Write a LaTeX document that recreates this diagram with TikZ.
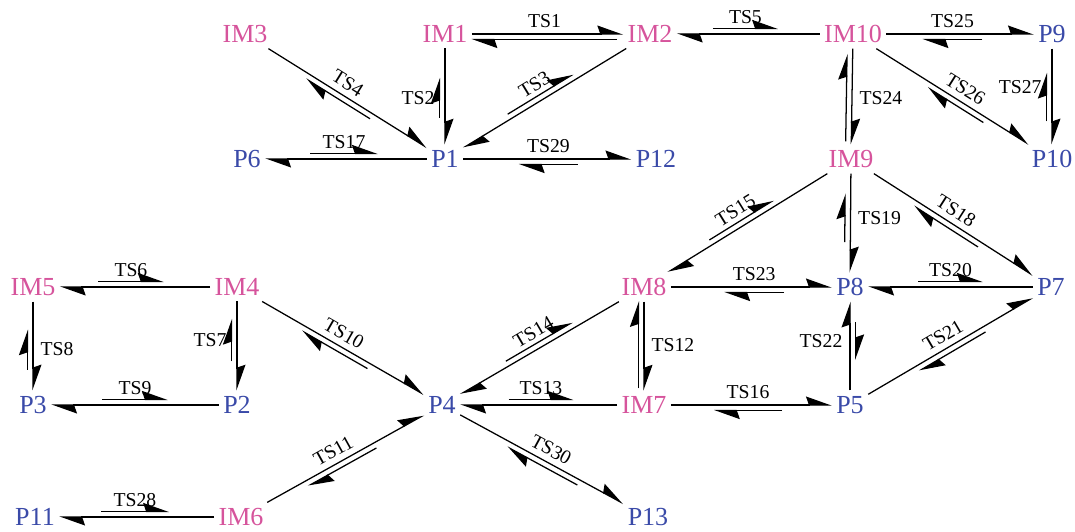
\documentclass[tikz,border=0pt]{standalone}
\usepackage{fontspec}
\setmainfont{Liberation Serif}
\usetikzlibrary{arrows.meta}
\usetikzlibrary{calc}
\definecolor{impink}{RGB}{214,84,156}
\definecolor{pblue}{RGB}{58,74,168}
\tikzstyle{ImNode}=[rectangle, inner xsep=3pt, inner ysep=4pt, text=impink, font=\fontsize{18.5}{20}\selectfont]
\tikzstyle{PNode}=[ImNode, text=pblue]
\tikzstyle{FwdEdge}=[-{Stealth[harpoon, length=17pt, width=12pt, inset=2pt]}, line width=0.9pt]
\tikzstyle{BackEdge}=[FwdEdge]
\tikzstyle{TsLabel}=[font=\fontsize{14}{16}\selectfont, inner sep=1pt]

\begin{document}
\begin{tikzpicture}[x=0.025cm, y=-0.025cm]
\useasboundingbox (0,0) rectangle (1075,531);
% intermediates
\node[ImNode](IM3) at (245,34) {IM3};
\node[ImNode](IM1) at (445,34) {IM1};
\node[ImNode](IM2) at (650,34) {IM2};
\node[ImNode](IM10) at (853,34) {IM10};
\node[ImNode](IM9) at (851,159) {IM9};
\node[ImNode](IM5) at (33,287) {IM5};
\node[ImNode](IM4) at (237,287) {IM4};
\node[ImNode](IM8) at (644,287) {IM8};
\node[ImNode](IM7) at (644,405) {IM7};
\node[ImNode](IM6) at (241,517) {IM6};
% products
\node[PNode](P9) at (1052,34) {P9};
\node[PNode](P6) at (247,159) {P6};
\node[PNode](P1) at (445,159) {P1};
\node[PNode](P12) at (656,159) {P12};
\node[PNode](P10) at (1052,159) {P10};
\node[PNode](P8) at (850,287) {P8};
\node[PNode](P7) at (1051,287) {P7};
\node[PNode](P3) at (33,405) {P3};
\node[PNode](P2) at (237,405) {P2};
\node[PNode](P4) at (442,405) {P4};
\node[PNode](P5) at (850,405) {P5};
\node[PNode](P11) at (35,517) {P11};
\node[PNode](P13) at (648,517) {P13};

% top part
\draw[FwdEdge](IM1) -- (IM2);
\draw[BackEdge]($(IM1)!.84!(IM2)!4pt!-90:(IM2)$) -- ($(IM1)!.13!(IM2)!4pt!-90:(IM2)$) node[TsLabel, midway, sloped, above=7pt]{TS1};
\draw[FwdEdge](IM1) -- (P1);
\draw[BackEdge]($(IM1)!.67!(P1)!4pt!-90:(P1)$) -- ($(IM1)!.35!(P1)!4pt!-90:(P1)$) node[TsLabel, midway, left=2pt]{TS2};
\draw[FwdEdge](IM2) -- (P1);
\draw[BackEdge]($(IM2)!.68!(P1)!4pt!-90:(P1)$) -- ($(IM2)!.36!(P1)!4pt!-90:(P1)$) node[TsLabel, midway, sloped, above=2pt]{TS3};
\draw[FwdEdge](IM3) -- (P1);
\draw[BackEdge]($(IM3)!.64!(P1)!4pt!-90:(P1)$) -- ($(IM3)!.32!(P1)!4pt!-90:(P1)$) node[TsLabel, midway, sloped, above=7pt]{TS4};
\draw[FwdEdge](IM10) -- (IM2);
\draw[BackEdge]($(IM10)!.69!(IM2)!4pt!-90:(IM2)$) -- ($(IM10)!.37!(IM2)!4pt!-90:(IM2)$) node[TsLabel, midway, sloped, above=2pt]{TS5};
\draw[FwdEdge](P1) -- (P6);
\draw[BackEdge]($(P1)!.68!(P6)!4pt!-90:(P6)$) -- ($(P1)!.34!(P6)!4pt!-90:(P6)$) node[TsLabel, midway, sloped, above=2pt]{TS17};
\draw[FwdEdge](P1) -- (P12);
\draw[BackEdge]($(P1)!.63!(P12)!4pt!-90:(P12)$) -- ($(P1)!.35!(P12)!4pt!-90:(P12)$) node[TsLabel, midway, sloped, above=7pt]{TS29};
\draw[FwdEdge](IM10) -- (IM9);
\draw[BackEdge]($(IM10)!.86!(IM9)!4pt!-90:(IM9)$) -- ($(IM10)!.16!(IM9)!4pt!-90:(IM9)$) node[TsLabel, midway, right=8pt]{TS24};
\draw[FwdEdge](IM10) -- (P9);
\draw[BackEdge]($(IM10)!.65!(P9)!4pt!-90:(P9)$) -- ($(IM10)!.35!(P9)!4pt!-90:(P9)$) node[TsLabel, midway, sloped, above=7pt]{TS25};
\draw[FwdEdge](IM10) -- (P10);
\draw[BackEdge]($(IM10)!.67!(P10)!4pt!-90:(P10)$) -- ($(IM10)!.39!(P10)!4pt!-90:(P10)$) node[TsLabel, midway, sloped, above=7pt]{TS26};
\draw[FwdEdge](P9) -- (P10);
\draw[BackEdge]($(P9)!.70!(P10)!4pt!-90:(P10)$) -- ($(P9)!.31!(P10)!4pt!-90:(P10)$) node[TsLabel, pos=.7, left=2pt]{TS27};

% right part
\draw[FwdEdge](IM9) -- (IM8);
\draw[BackEdge]($(IM9)!.67!(IM8)!4pt!-90:(IM8)$) -- ($(IM9)!.36!(IM8)!4pt!-90:(IM8)$) node[TsLabel, midway, sloped, above=2pt]{TS15};
\draw[FwdEdge](IM9) -- (P7);
\draw[BackEdge]($(IM9)!.65!(P7)!4pt!-90:(P7)$) -- ($(IM9)!.33!(P7)!4pt!-90:(P7)$) node[TsLabel, midway, sloped, above=7pt]{TS18};
\draw[FwdEdge](IM9) -- (P8);
\draw[BackEdge]($(IM9)!.65!(P8)!4pt!-90:(P8)$) -- ($(IM9)!.27!(P8)!4pt!-90:(P8)$) node[TsLabel, midway, right=8pt]{TS19};
\draw[FwdEdge](P7) -- (P8);
\draw[BackEdge]($(P7)!.66!(P8)!4pt!-90:(P8)$) -- ($(P7)!.34!(P8)!4pt!-90:(P8)$) node[TsLabel, midway, sloped, above=2pt]{TS20};
\draw[FwdEdge](P5) -- (P7);
\draw[BackEdge]($(P5)!.66!(P7)!4pt!-90:(P7)$) -- ($(P5)!.33!(P7)!4pt!-90:(P7)$) node[TsLabel, midway, sloped, above=7pt]{TS21};
\draw[FwdEdge](P5) -- (P8);
\draw[BackEdge]($(P5)!.70!(P8)!4pt!-90:(P8)$) -- ($(P5)!.38!(P8)!4pt!-90:(P8)$) node[TsLabel, midway, left=8pt]{TS22};
\draw[FwdEdge](IM8) -- (P8);
\draw[BackEdge]($(IM8)!.68!(P8)!4pt!-90:(P8)$) -- ($(IM8)!.39!(P8)!4pt!-90:(P8)$) node[TsLabel, midway, sloped, above=7pt]{TS23};
\draw[FwdEdge](IM8) -- (IM7);
\draw[BackEdge]($(IM8)!.86!(IM7)!4pt!-90:(IM7)$) -- ($(IM8)!.12!(IM7)!4pt!-90:(IM7)$) node[TsLabel, midway, right=8pt]{TS12};
\draw[FwdEdge](IM8) -- (P4);
\draw[BackEdge]($(IM8)!.67!(P4)!4pt!-90:(P4)$) -- ($(IM8)!.34!(P4)!4pt!-90:(P4)$) node[TsLabel, midway, sloped, above=2pt]{TS14};
\draw[FwdEdge](IM7) -- (P4);
\draw[BackEdge]($(IM7)!.67!(P4)!4pt!-90:(P4)$) -- ($(IM7)!.35!(P4)!4pt!-90:(P4)$) node[TsLabel, midway, sloped, above=2pt]{TS13};
\draw[FwdEdge](IM7) -- (P5);
\draw[BackEdge]($(IM7)!.67!(P5)!4pt!-90:(P5)$) -- ($(IM7)!.34!(P5)!4pt!-90:(P5)$) node[TsLabel, midway, sloped, above=7pt]{TS16};

% left part
\draw[FwdEdge](IM4) -- (IM5);
\draw[BackEdge]($(IM4)!.68!(IM5)!4pt!-90:(IM5)$) -- ($(IM4)!.36!(IM5)!4pt!-90:(IM5)$) node[TsLabel, midway, sloped, above=2pt]{TS6};
\draw[FwdEdge](IM4) -- (P2);
\draw[BackEdge]($(IM4)!.63!(P2)!4pt!-90:(P2)$) -- ($(IM4)!.27!(P2)!4pt!-90:(P2)$) node[TsLabel, midway, left=2pt]{TS7};
\draw[FwdEdge](IM5) -- (P3);
\draw[BackEdge]($(IM5)!.70!(P3)!4pt!-90:(P3)$) -- ($(IM5)!.36!(P3)!4pt!-90:(P3)$) node[TsLabel, midway, right=8pt]{TS8};
\draw[FwdEdge](P2) -- (P3);
\draw[BackEdge]($(P2)!.66!(P3)!4pt!-90:(P3)$) -- ($(P2)!.34!(P3)!4pt!-90:(P3)$) node[TsLabel, midway, sloped, above=2pt]{TS9};
\draw[FwdEdge](IM4) -- (P4);
\draw[BackEdge]($(IM4)!.65!(P4)!4pt!-90:(P4)$) -- ($(IM4)!.33!(P4)!4pt!-90:(P4)$) node[TsLabel, midway, sloped, above=7pt]{TS10};
\draw[FwdEdge](IM6) -- (P4);
\draw[BackEdge]($(IM6)!.66!(P4)!4pt!-90:(P4)$) -- ($(IM6)!.32!(P4)!4pt!-90:(P4)$) node[TsLabel, midway, sloped, above=7pt]{TS11};
\draw[FwdEdge](IM6) -- (P11);
\draw[BackEdge]($(IM6)!.68!(P11)!4pt!-90:(P11)$) -- ($(IM6)!.35!(P11)!4pt!-90:(P11)$) node[TsLabel, midway, sloped, above=2pt]{TS28};
\draw[FwdEdge](P4) -- (P13);
\draw[BackEdge]($(P4)!.67!(P13)!4pt!-90:(P13)$) -- ($(P4)!.33!(P13)!4pt!-90:(P13)$) node[TsLabel, midway, sloped, above=7pt]{TS30};
\end{tikzpicture}
\end{document}
